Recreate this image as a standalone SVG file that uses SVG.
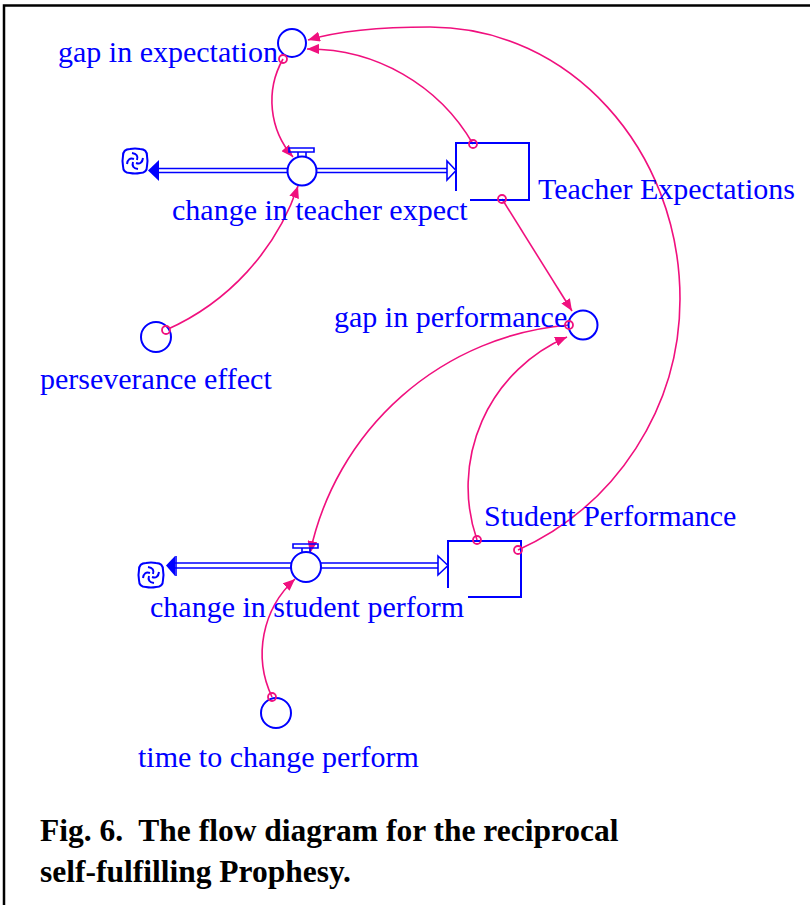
<svg xmlns="http://www.w3.org/2000/svg" width="810" height="905" viewBox="0 0 810 905">
  <style>
    .lbl { font-family: "Liberation Serif", "Times New Roman", serif; font-size: 30px; fill: #0000ff; }
    .cap { font-family: "Liberation Serif", "Times New Roman", serif; font-size: 31.5px; font-weight: bold; fill: #000; }
    .aux { fill: #fff; stroke: #0000ff; stroke-width: 2; }
    .stock { fill: none; stroke: #0000ff; stroke-width: 2; }
    .pipe { stroke: #0000ff; stroke-width: 1.6; fill: none; }
    .link { fill: none; stroke: #f0107e; stroke-width: 1.6; marker-end: url(#ah); }
    .tail { fill: none; stroke: #f0107e; stroke-width: 1.8; }
    .cloud { fill: none; stroke: #0000ff; stroke-width: 2; }
  </style>
  <defs>
    <marker id="ah" markerUnits="userSpaceOnUse" markerWidth="12" markerHeight="10" viewBox="0 0 12 10" refX="12" refY="5" orient="auto">
      <path d="M0,0 L12,5 L0,10 z" fill="#f0107e"/>
    </marker>
    <!-- source/sink cloud -->
    <g id="cloudIcon" class="cloud">
      <path d="M-5,-12 Q0,-13 5,-12 Q12,-12 12,-5 Q13,0 12,5 Q12,12 5,12 Q0,13 -5,12 Q-12,12 -12,5 Q-13,0 -12,-5 Q-12,-12 -5,-12 Z"/>
      <path d="M-3,-8 Q4,-7 2,-1 M8,-3 Q7,4 1,2 M3,8 Q-4,7 -2,1 M-8,3 Q-7,-4 -1,-2"/>
    </g>
    <!-- valve handle on a flow -->
    <path id="valveTop" d="M-13,-23 H12 V-19 H-13 Z M-4,-19 V-14 M4,-19 V-14" fill="none" stroke="#0000ff" stroke-width="1.6"/>
  </defs>

  <!-- frame -->
  <path d="M4,905 V5.5 H810" fill="none" stroke="#000" stroke-width="2.5"/>

  <!-- connectors -->
  <g id="connectors">
    <path class="link" d="M283,59 A85,85 0 0 0 293,157"/>
    <path class="link" d="M473,144 A190,190 0 0 0 307,49"/>
    <path class="link" d="M518,550 A276,276 0 0 0 680,299 C680,150 570,27 430,27 C380,27 335,32 308,40"/>
    <path class="link" d="M502,199 L572,311"/>
    <path class="link" d="M166,330 A243,243 0 0 0 298,186"/>
    <path class="link" d="M569,325 A289,289 0 0 0 310,553"/>
    <path class="link" d="M477,540 A163,163 0 0 1 567,337"/>
    <path class="link" d="M272,697 A101,101 0 0 1 295,579"/>
  </g>

  <!-- flow: change in teacher expect -->
  <g id="flow-teacher">
    <line class="pipe" x1="159" y1="168.5" x2="447" y2="168.5"/>
    <line class="pipe" x1="159" y1="172.5" x2="447" y2="172.5"/>
    <polygon points="148,170.5 159,160 159,181" fill="#0000ff"/>
    <polygon points="456,170.5 447,161 447,180" fill="#fff" stroke="#0000ff" stroke-width="1.6"/>
    <use href="#cloudIcon" x="135" y="161"/>
    <use href="#valveTop" x="302" y="171"/>
    <circle class="aux" cx="302" cy="171" r="14.5"/>
    <text class="lbl" x="172" y="220">change in teacher expect</text>
  </g>

  <!-- flow: change in student perform -->
  <g id="flow-student">
    <line class="pipe" x1="175" y1="563" x2="438" y2="563"/>
    <line class="pipe" x1="175" y1="568" x2="438" y2="568"/>
    <polygon points="166,565.5 175,556 175,576" fill="#0000ff"/>
    <line x1="176" y1="556" x2="176" y2="576" stroke="#0000ff" stroke-width="1.6"/>
    <polygon points="448,565.5 438,556 438,575" fill="#fff" stroke="#0000ff" stroke-width="1.6"/>
    <use href="#cloudIcon" x="151" y="575"/>
    <use href="#valveTop" x="306" y="567"/>
    <circle class="aux" cx="306" cy="567" r="15"/>
    <text class="lbl" x="150" y="617">change in student perform</text>
  </g>

  <!-- stock: Teacher Expectations -->
  <g id="teacher-expectations">
    <path class="stock" d="M456,191 V143 H529 V200 H470"/>
    <text class="lbl" x="538" y="199">Teacher Expectations</text>
  </g>

  <!-- stock: Student Performance -->
  <g id="student-performance">
    <path class="stock" d="M448,588 V541 H521 V597 H468"/>
    <text class="lbl" x="484" y="526">Student Performance</text>
  </g>

  <!-- auxiliaries -->
  <g id="gap-in-expectation">
    <circle class="aux" cx="292" cy="43" r="14"/>
    <text class="lbl" x="58" y="62">gap in expectation</text>
  </g>
  <g id="gap-in-performance">
    <circle class="aux" cx="583" cy="325" r="14.5"/>
    <text class="lbl" x="334" y="327">gap in performance</text>
  </g>
  <g id="perseverance-effect">
    <circle class="aux" cx="156" cy="337" r="15"/>
    <text class="lbl" x="40" y="389">perseverance effect</text>
  </g>
  <g id="time-to-change-perform">
    <circle class="aux" cx="276" cy="713" r="15"/>
    <text class="lbl" x="138" y="767">time to change perform</text>
  </g>

  <!-- connector tails -->
  <g id="connector-tails">
    <circle class="tail" cx="283" cy="59" r="4"/>
    <circle class="tail" cx="473" cy="144" r="4"/>
    <circle class="tail" cx="502" cy="199" r="4"/>
    <circle class="tail" cx="518" cy="550" r="4"/>
    <circle class="tail" cx="477" cy="540" r="4"/>
    <circle class="tail" cx="569" cy="325" r="4"/>
    <circle class="tail" cx="166" cy="330" r="4"/>
    <circle class="tail" cx="272" cy="697" r="4"/>
  </g>

  <!-- caption -->
  <text class="cap" x="40" y="841" xml:space="preserve">Fig. 6.  The flow diagram for the reciprocal</text>
  <text class="cap" x="40" y="882">self-fulfilling Prophesy.</text>
</svg>
